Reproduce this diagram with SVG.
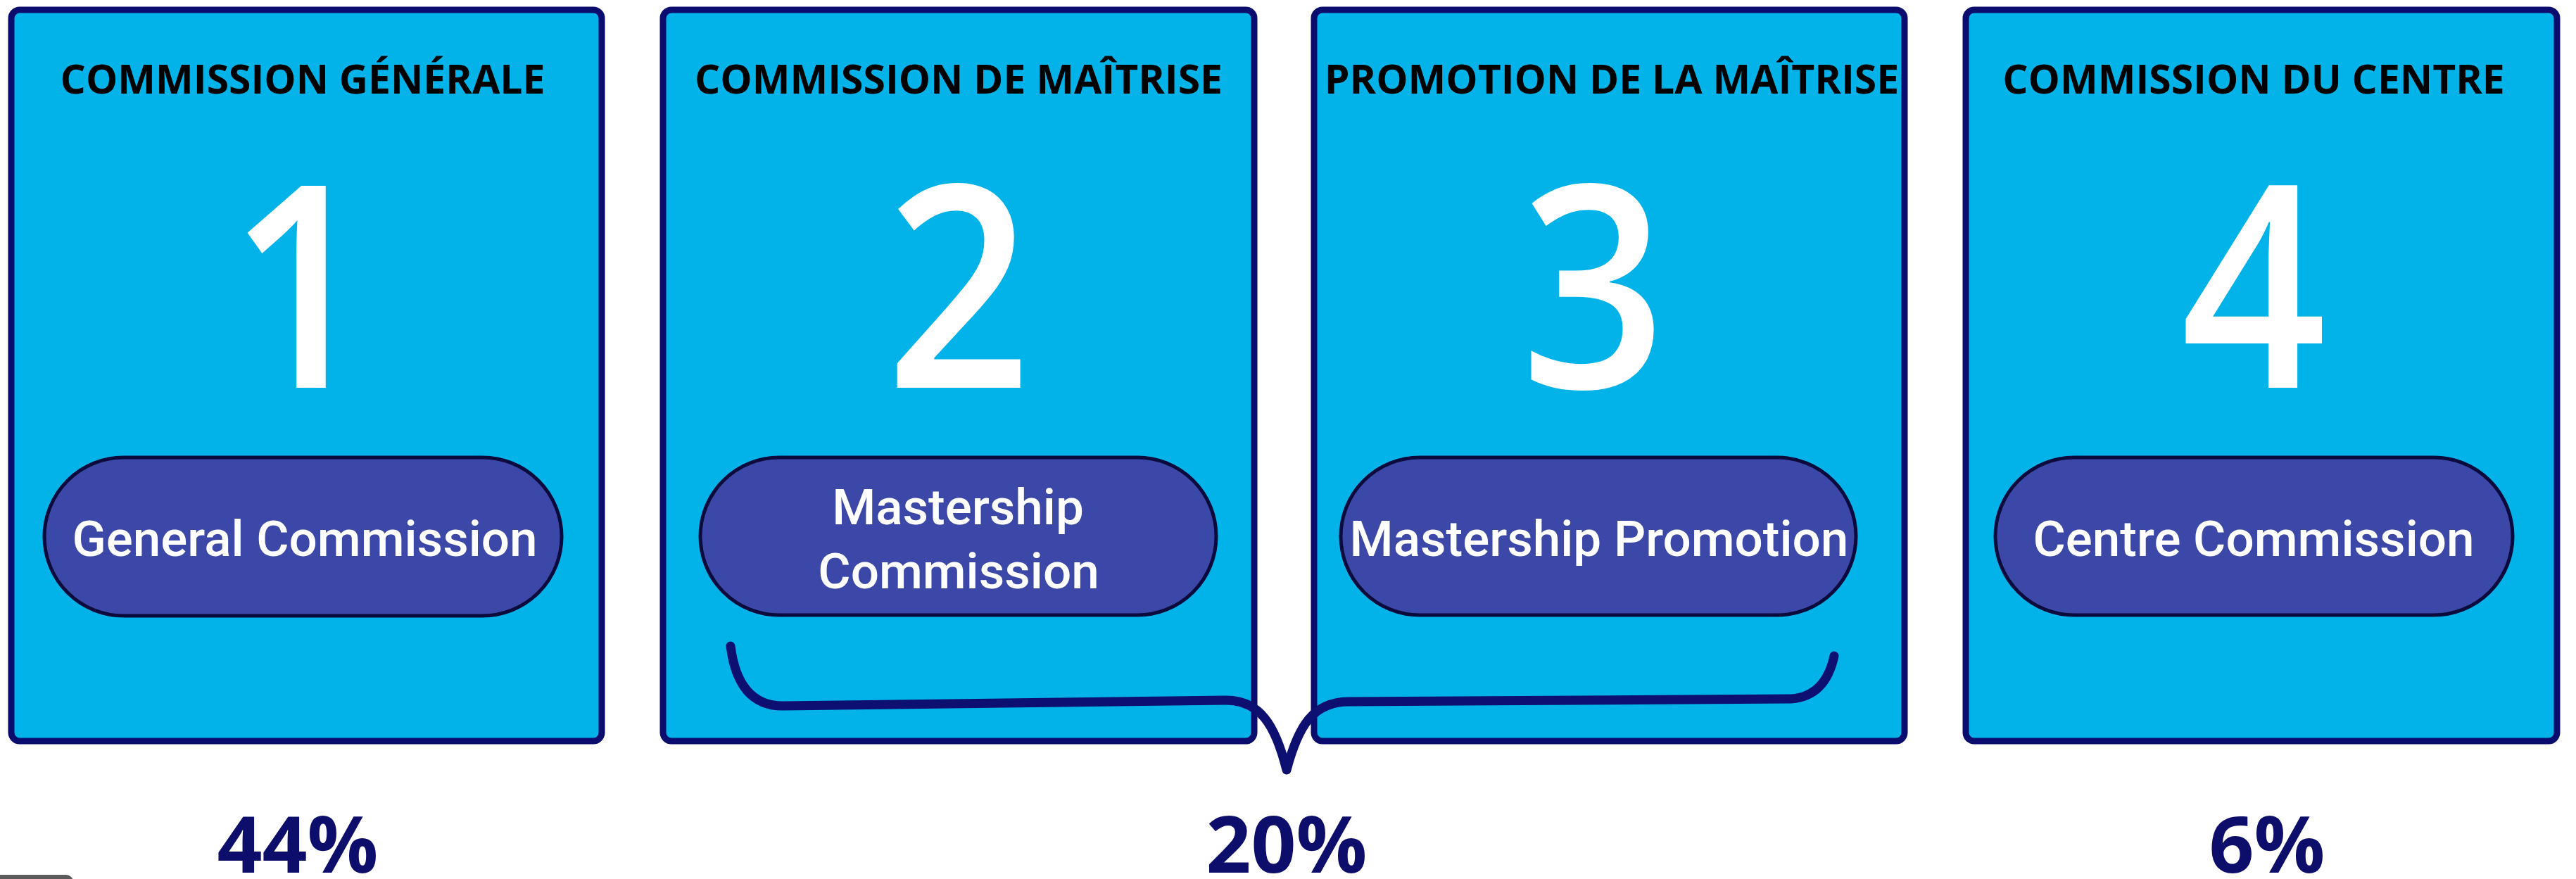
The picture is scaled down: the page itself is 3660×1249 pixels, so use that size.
<svg xmlns="http://www.w3.org/2000/svg" width="3660" height="1249" viewBox="0 0 3660 1249">
<style>
.card{fill:#02B3E9;stroke:#0B0D6E;stroke-width:9}
.pill{fill:#3B48A8;stroke:#0A0B3C;stroke-width:5}
.title{font-family:"Open Sans","Liberation Sans",sans-serif;font-weight:700;font-size:57px;fill:#000;text-anchor:middle}
.num{font-family:"Open Sans","Liberation Sans",sans-serif;font-weight:600;font-size:402px;fill:#fff;text-anchor:middle}
.lbl{font-family:"Roboto","Liberation Sans",sans-serif;font-weight:500;font-size:71px;fill:#fff;text-anchor:middle}
.pct{font-family:"Open Sans","Liberation Sans",sans-serif;font-weight:700;font-size:112px;fill:#0D0D6B;text-anchor:middle}
.brace{fill:none;stroke:#0D1070;stroke-width:13;stroke-linecap:round;stroke-linejoin:round}
</style>
<rect x="0" y="0" width="3660" height="1249" fill="#fff"/>
<g id="node1">
<rect class="card" x="16" y="14" width="839" height="1039" rx="12"/>
<text class="title" x="430" y="133">COMMISSION GÉNÉRALE</text>
<text class="num" x="428" y="551" transform="translate(428 0) scale(0.9 1) translate(-428 0)">1</text>
<rect class="pill" x="63" y="650" width="735" height="225" rx="112.5"/>
<text class="lbl" x="433" y="790">General Commission</text>
</g>
<g id="node2">
<rect class="card" x="942" y="14" width="840" height="1039" rx="12"/>
<text class="title" x="1362" y="133">COMMISSION DE MAÎTRISE</text>
<text class="num" x="1362" y="551" transform="translate(1362 0) scale(0.9 1) translate(-1362 0)">2</text>
<rect class="pill" x="995" y="650" width="733" height="224" rx="112"/>
<text class="lbl" x="1361" y="745">Mastership</text>
<text class="lbl" x="1362" y="836">Commission</text>
</g>
<g id="node3">
<rect class="card" x="1867" y="14" width="839" height="1039" rx="12"/>
<text class="title" x="2290" y="133">PROMOTION DE LA MAÎTRISE</text>
<text class="num" x="2264" y="551" transform="translate(2264 0) scale(0.9 1) translate(-2264 0)">3</text>
<rect class="pill" x="1905" y="650" width="732" height="224" rx="112"/>
<text class="lbl" x="2272" y="790">Mastership Promotion</text>
</g>
<g id="node4">
<rect class="card" x="2793" y="14" width="840" height="1039" rx="12"/>
<text class="title" x="3202" y="133">COMMISSION DU CENTRE</text>
<text class="num" x="3202" y="551" transform="translate(3202 0) scale(0.9 1) translate(-3202 0)">4</text>
<rect class="pill" x="2835" y="650" width="735" height="224" rx="112"/>
<text class="lbl" x="3202" y="790">Centre Commission</text>
</g>
<g id="connectors">
<path class="brace" d="M 1038 918 C 1045 975, 1070 1003, 1112 1003 L 1742 995 C 1790 995, 1812 1030, 1828 1094 C 1845 1030, 1866 998, 1915 997 L 2545 993 C 2585 990, 2600 960, 2606 932"/>
</g>
<g id="labels">
<text class="pct" x="423" y="1240">44%</text>
<text class="pct" x="1828" y="1240">20%</text>
<text class="pct" x="3221" y="1240">6%</text>
</g>
<rect x="-20" y="1243" width="124" height="30" rx="10" fill="#5B5B5B"/>
</svg>
